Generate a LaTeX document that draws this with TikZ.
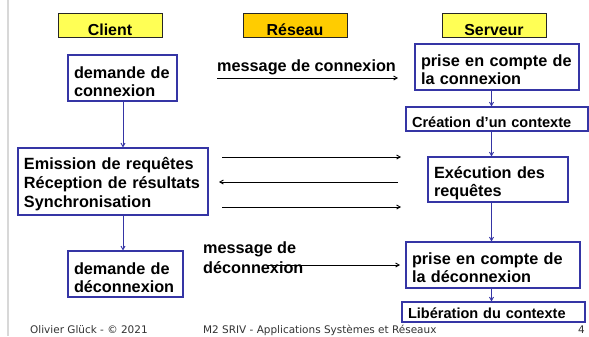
\documentclass[tikz,border=0pt]{standalone}
\usepackage{fontspec}
\setmainfont{Liberation Sans}
\newfontfamily\dejavu{DejaVu Sans}
\usetikzlibrary{arrows.meta}
\definecolor{hdryel}{HTML}{FFFF55}
\definecolor{hdrorg}{HTML}{FFCC00}
\definecolor{bxc}{HTML}{3535A5}
\definecolor{sidegray}{HTML}{D8D8D8}
\newcommand\myTS[1]{\rule{0pt}{#1bp}}
\newcommand\myBS{\rule[-4bp]{0pt}{4bp}}
\tikzset{
  hdr/.style={draw=black!85, line width=0.9bp, minimum width=104bp, inner xsep=0pt, inner ysep=0pt,
    text height=22bp, text depth=2bp, font=\bfseries\fontsize{16}{20}\selectfont},
  bx/.style={draw=bxc, line width=1.1bp, inner xsep=6bp, inner ysep=0pt, align=left,
    font=\bfseries\fontsize{16.3}{19}\selectfont},
  sbx/.style={draw=bxc, line width=1.1bp, inner xsep=6bp, inner ysep=0pt, align=left,
    font=\bfseries\fontsize{14.6}{18}\selectfont},
  msg/.style={inner sep=0pt, align=left, font=\bfseries\fontsize{16.3}{20}\selectfont},
  vlink/.style={draw=bxc, line width=0.9bp, -{Straight Barb[length=3.5bp,width=4bp]}},
  hlink/.style={draw=black, line width=0.9bp, -{Straight Barb[length=3.5bp,width=4bp]}},
  foot/.style={inner sep=0pt, font=\dejavu\fontsize{10.5}{12}\selectfont, text=black!80}
}
\begin{document}
\begin{tikzpicture}[x=1bp,y=-1bp]
\useasboundingbox (0,0) rectangle (589,336);
\fill[white] (0,0) rectangle (589,336);
\draw[sidegray, line width=2bp] (7.5,0) -- (7.5,336);

% headers
\node[hdr, fill=hdryel] (client) at (110,25) {Client};
\node[hdr, fill=hdrorg] (reseau) at (295,25) {Réseau};
\node[hdr, fill=hdryel] (serveur) at (494,25) {Serveur};

% client side
\node[bx, text width=97bp, minimum height=46bp] (dc) at (122.5,78) {\myTS{23}demande de\\connexion\myBS};
\node[bx, text width=178bp, minimum height=67bp] (em) at (113,181.5) {\myTS{17.6}Emission de requêtes\\Réception de résultats\\Synchronisation\myBS};
\node[bx, text width=103bp, minimum height=46bp] (dd) at (125.5,274) {\myTS{23}demande de\\déconnexion\myBS};

% server side
\node[bx, text width=152bp, minimum height=46bp] (pc) at (497,67) {\myTS{21}prise en compte de\\la connexion\myBS};
\node[sbx, text width=170bp, text height=20bp, text depth=4bp] (cr) at (497,119) {Création d’un contexte};
\node[bx, text width=128bp, minimum height=45bp] (ex) at (498,179.5) {\myTS{20}Exécution des\\requêtes\myBS};
\node[bx, text width=162bp, minimum height=46bp] (pd) at (493,265) {\myTS{21}prise en compte de\\la déconnexion\myBS};
\node[sbx, text width=171bp, text height=16bp, text depth=4bp] (lb) at (493.5,312) {Libération du contexte};

% vertical links
\coordinate (cx) at (123,0);
\coordinate (sx) at (491.5,0);
\draw[vlink] (dc.south -| cx) -- (em.north -| cx);
\draw[vlink] (em.south -| cx) -- (dd.north -| cx);
\draw[vlink] (pc.south -| sx) -- (cr.north -| sx);
\draw[vlink] (cr.south -| sx) -- (ex.north -| sx);
\draw[vlink] (ex.south -| sx) -- (pd.north -| sx);
\draw[vlink] (pd.south -| sx) -- (lb.north -| sx);

% messages
\node[msg, anchor=base west] (mc) at (217,71) {message de connexion};
\coordinate (mcs) at (217,78);
\coordinate (mce) at (398,78);
\draw[hlink] (mcs) -- (mce);

\coordinate (r1s) at (222,157);
\coordinate (r1e) at (401,157);
\coordinate (r2s) at (398,182);
\coordinate (r2e) at (219,182);
\coordinate (r3s) at (222,207);
\coordinate (r3e) at (401,207);
\draw[hlink] (r1s) -- (r1e);
\draw[hlink] (r2s) -- (r2e);
\draw[hlink] (r3s) -- (r3e);

\node[msg, anchor=north west] (md) at (203,241.5) {message de\\déconnexion};
\coordinate (mds) at (268,265);
\coordinate (mde) at (400,265);
\draw[hlink] (mds) -- (mde);

% footer
\node[foot, anchor=base west] (f1) at (30,333) {Olivier Glück - © 2021};
\node[foot, anchor=base west] (f2) at (203,333) {M2 SRIV - Applications Systèmes et Réseaux};
\node[foot, anchor=base east] (f3) at (585,333) {4};
\end{tikzpicture}
\end{document}
